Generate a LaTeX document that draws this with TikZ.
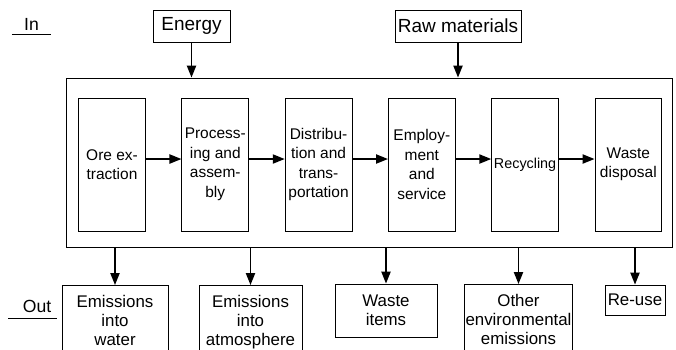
\documentclass[tikz,border=0pt]{standalone}
\usepackage{fontspec}
\setmainfont{Liberation Sans}
\usepackage{tikz}
\usetikzlibrary{positioning, arrows.meta}
\tikzstyle{stage} = [draw, line width=0.6pt, minimum width=1.67cm, minimum height=3.325cm, align=center, inner xsep=1pt, font=\fontsize{11}{13.9}\selectfont]
\tikzstyle{inbox} = [draw, line width=0.6pt, minimum height=0.8cm, inner xsep=1pt, font=\fontsize{13.5}{15}\selectfont]
\tikzstyle{outbox} = [draw, line width=0.6pt, align=center, inner xsep=1pt, font=\fontsize{12}{13.5}\selectfont]
\tikzstyle{openbox} = [outbox, anchor=north, inner ysep=7pt]
\tikzstyle{flow} = [line width=1.2pt, -{Triangle[length=8.5pt,width=6.5pt]}]
\tikzstyle{side} = [inner sep=0pt, font=\fontsize{12.5}{15}\selectfont]
\newcommand{\runoff}{\rule[-20pt]{0pt}{0pt}}

\begin{document}
\begin{tikzpicture}[x=0.025cm, y=-0.025cm]
            \useasboundingbox (0,0) rectangle (676,349);
            % labels on the left
            \node[side] (inlbl) at (31.5,24) {In};
            \draw[line width=0.6pt] ([xshift=-8.5pt,yshift=-2.8pt]inlbl.south west) -- ([xshift=8.5pt,yshift=-2.8pt]inlbl.south east);
            \node[side] (outlbl) at (37,306.5) {Out};
            \draw[line width=0.6pt] ([xshift=-10pt,yshift=-3.5pt]outlbl.south west) -- ([xshift=3.6pt,yshift=-3.5pt]outlbl.south east);
            % the life cycle
            \node[draw, line width=0.6pt, minimum width=15.15cm, minimum height=4.225cm] (system) at (369,162.5) {};
            \node[stage] (ore) at (112,164.5) {Ore ex-\\traction};
            \node[stage, right=0.89cm of ore] (proc) {Process-\\ing and\\assem-\\bly};
            \node[stage, right=0.89cm of proc] (distr) {Distribu-\\tion and\\trans-\\portation};
            \node[stage, right=0.89cm of distr] (serv) {Employ-\\ment\\and\\service};
            \node[stage, right=0.89cm of serv, font=\fontsize{10.2}{12}\selectfont] (recyc) {Recycling};
            \node[stage, right=0.89cm of recyc] (disp) {Waste\\disposal};
            \foreach \a/\b in {ore/proc, proc/distr, distr/serv, serv/recyc, recyc/disp}
                \draw[flow] ([yshift=3.9pt]\a.east) -- ([yshift=3.9pt]\b.west);
            % inputs
            \node[inbox, minimum width=1.925cm] (energy) at (191.5,26) {Energy};
            \node[inbox, minimum width=3.15cm] (raw) at (458,26) {Raw materials};
            \draw[flow] (energy.south) -- (energy.south |- system.north);
            \draw[flow] (raw.south) -- (raw.south |- system.north);
            % outputs
            \node[openbox, minimum width=2.65cm] (water) at (115,285) {Emissions\\into\\water\runoff};
            \node[openbox, minimum width=2.575cm] (air) at (250.5,285) {Emissions\\into\\atmosphere\runoff};
            \node[outbox, minimum width=2.55cm, minimum height=1.325cm] (items) at (386,310.5) {Waste\\items};
            \node[openbox, minimum width=2.675cm] (other) at (518.5,284) {Other\\environmental\\emissions\runoff};
            \node[outbox, minimum width=1.5cm, minimum height=0.75cm] (reuse) at (635,300) {Re-use};
            \foreach \n in {water, air, items, other, reuse}
                \draw[flow] (system.south -| \n.north) -- (\n.north);
\end{tikzpicture}
\end{document}
